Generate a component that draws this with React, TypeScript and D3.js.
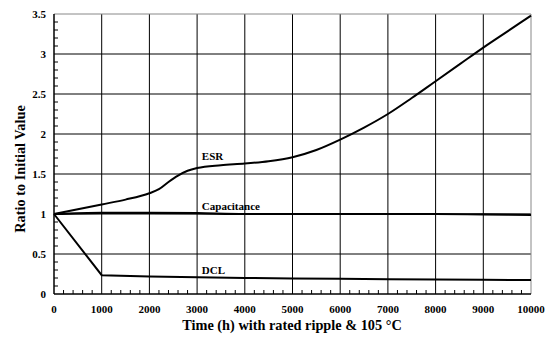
import React from "react";
import * as d3 from "d3";

const xTicks = [0, 1000, 2000, 3000, 4000, 5000, 6000, 7000, 8000, 9000, 10000];
const yTicks = [0, 0.5, 1, 1.5, 2, 2.5, 3, 3.5];
const yTickLabels = ["0", "0.5", "1", "1.5", "2", "2.5", "3", "3.5"];

const esrHours = [0, 500, 1000, 1500, 2000, 2200, 2400, 2600, 2800, 3000, 3500, 4000, 4500, 5000, 5500, 6000, 6500, 7000, 7500, 8000, 8500, 9000, 9500, 10000];
const esrValues = [1, 1.06, 1.12, 1.18, 1.26, 1.31, 1.4, 1.48, 1.54, 1.575, 1.61, 1.63, 1.66, 1.71, 1.8, 1.93, 2.08, 2.25, 2.45, 2.66, 2.87, 3.08, 3.28, 3.48];

const capHours = [0, 1000, 2000, 3000, 4000, 5000, 6000, 7000, 8000, 9000, 10000];
const capValues = [1.0, 1.015, 1.015, 1.01, 1.0, 1.0, 1.0, 1.0, 1.0, 0.995, 0.99];

const dclHours = [0, 1000, 2000, 3000, 4000, 5000, 6000, 7000, 8000, 9000, 10000];
const dclValues = [1.0, 0.235, 0.22, 0.21, 0.2, 0.195, 0.19, 0.185, 0.18, 0.178, 0.175];

const seriesLabels = [
  { text: "ESR", x: 3100, y: 1.67 },
  { text: "Capacitance", x: 3100, y: 1.05 },
  { text: "DCL", x: 3100, y: 0.255 },
];

const W = 552;
const H = 337;
const M = { left: 54, right: 21, top: 14, bottom: 43 };

export default function App() {
  const x = d3.scaleLinear().domain([0, 10000]).range([M.left, W - M.right]);
  const y = d3.scaleLinear().domain([0, 3.5]).range([H - M.bottom, M.top]);
  const font = "Liberation Serif, Times New Roman, serif";

  const line = (xs: number[], ys: number[], curve: d3.CurveFactory) =>
    d3
      .line<number>()
      .x((_, i) => x(xs[i]))
      .y((d) => y(d))
      .curve(curve)(ys) || "";

  const yMinor = d3.range(0, 35).map((i) => i / 10).filter((v) => Math.abs(v * 2 - Math.round(v * 2)) > 1e-6);
  const xMinor = d3.range(0, 10000, 200).filter((v) => v % 1000 !== 0);

  const x0 = x(0), x1 = x(10000), y0 = y(0), y1 = y(3.5);

  return (
    <svg width={W} height={H} style={{ position: "absolute", left: 0, top: 0, background: "#fff" }}>
      <rect x={0} y={0} width={W} height={H} fill="#fff" />
      {/* grid */}
      {xTicks.slice(1, -1).map((t) => (
        <line key={"gx" + t} x1={x(t)} x2={x(t)} y1={y0} y2={y1} stroke="#000" strokeWidth={1} />
      ))}
      {yTicks.slice(1, -1).map((t) => (
        <line key={"gy" + t} x1={x0} x2={x1} y1={y(t)} y2={y(t)} stroke="#000" strokeWidth={1} />
      ))}
      {/* border top/right gray */}
      <line x1={x0} x2={x1} y1={y1} y2={y1} stroke="#888" strokeWidth={1} />
      <line x1={x1} x2={x1} y1={y1} y2={y0} stroke="#888" strokeWidth={1} />
      {/* minor ticks */}
      {yMinor.map((t) => (
        <line key={"my" + t} x1={x0} x2={x0 + 4} y1={y(t)} y2={y(t)} stroke="#000" strokeWidth={1} />
      ))}
      {xMinor.map((t) => (
        <line key={"mx" + t} x1={x(t)} x2={x(t)} y1={y0} y2={y0 - 4} stroke="#000" strokeWidth={1} />
      ))}
      {/* axes */}
      <line x1={x0} x2={x0} y1={y1} y2={y0} stroke="#000" strokeWidth={1.5} />
      <line x1={x0} x2={x1} y1={y0} y2={y0} stroke="#000" strokeWidth={1.5} />
      {/* series */}
      <path d={line(esrHours, esrValues, d3.curveMonotoneX)} fill="none" stroke="#000" strokeWidth={2} />
      <path d={line(capHours, capValues, d3.curveMonotoneX)} fill="none" stroke="#000" strokeWidth={2.2} />
      <path d={line(dclHours, dclValues, d3.curveLinear)} fill="none" stroke="#000" strokeWidth={2} />
      {seriesLabels.map((s) => (
        <text key={s.text} x={x(s.x)} y={y(s.y)} fontFamily={font} fontWeight="bold" fontSize={11} fill="#000">
          {s.text}
        </text>
      ))}
      {/* tick labels */}
      {yTicks.map((t, i) => (
        <text key={"ly" + t} x={46} y={y(t)} dy="0.35em" textAnchor="end" fontFamily={font} fontWeight="bold" fontSize={11} fill="#000">
          {yTickLabels[i]}
        </text>
      ))}
      {xTicks.map((t) => (
        <text key={"lx" + t} x={x(t)} y={313} textAnchor="middle" fontFamily={font} fontWeight="bold" fontSize={11} fill="#000">
          {t}
        </text>
      ))}
      <text x={292} y={330} textAnchor="middle" fontFamily={font} fontWeight="bold" fontSize={14.3} fill="#000">
        Time (h) with rated ripple &amp; 105 °C
      </text>
      <text transform={`translate(25, 169) rotate(-90)`} textAnchor="middle" fontFamily={font} fontWeight="bold" fontSize={14.3} fill="#000">
        Ratio to Initial Value
      </text>
    </svg>
  );
}
